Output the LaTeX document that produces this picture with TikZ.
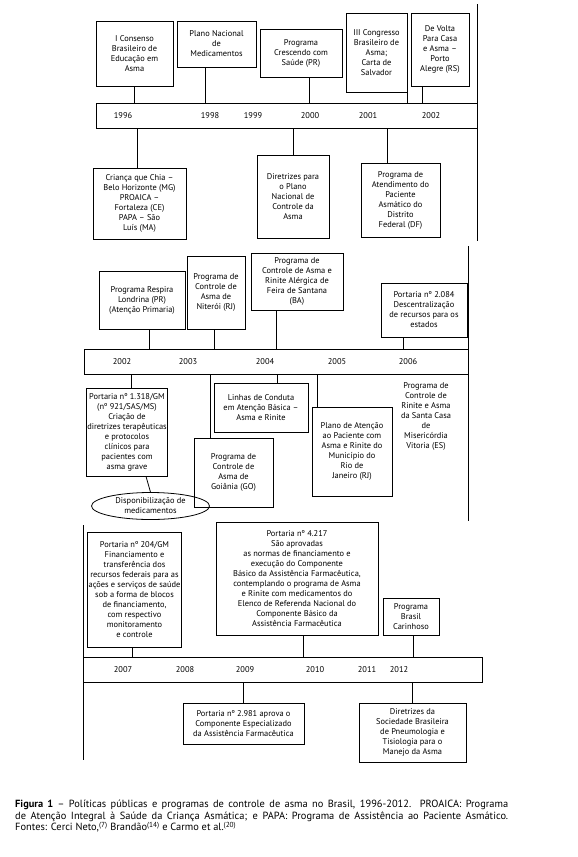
\documentclass[tikz,border=0pt]{standalone}
\usepackage{fontspec}
\setmainfont{PT Sans}
\usetikzlibrary{shapes.geometric}
\tikzset{
  caixa/.style={draw, line width=0.8pt, align=center, inner sep=1pt, font=\fontsize{8.4}{10}\selectfont},
  faixa/.style={draw, line width=0.8pt, minimum height=25, inner sep=0pt},
  ano/.style={font=\fontsize{8.4}{10}\selectfont},
  liga/.style={line width=0.8pt},
}
\begin{document}
\begin{tikzpicture}[x=1pt, y=-1pt]
\fill[white] (0,0) rectangle (578,857);
\useasboundingbox (0,0) rectangle (578,857);

% Primeira faixa: 1996-2002
\node[faixa, minimum width=381] (f1) at (286.5,115.5) {};
\node[ano] (a96) at (123,116) {1996};
\node[ano] (a98) at (210,116) {1998};
\node[ano] (a99) at (253,116) {1999};
\node[ano] (a00) at (310,116) {2000};
\node[ano] (a01) at (368,116) {2001};
\node[ano] (a02) at (431,116) {2002};
\draw[liga] (477,4) -- (477,241); % linha lateral

% Caixas acima da faixa
\node[caixa, minimum width=77, minimum height=65] (b1) at (134.5,53.5) {I Consenso\\Brasileiro de\\Educação em\\Asma};
\node[caixa, minimum width=79, minimum height=46] (b2) at (216.5,44) {Plano Nacional\\de\\Medicamentos};
\node[caixa, minimum width=82, minimum height=48] (b3) at (301,53) {Programa\\Crescendo com\\Saúde (PR)};
\node[caixa, minimum width=61, minimum height=79] (b4) at (376.5,52.5) {III Congresso\\Brasileiro de\\Asma;\\Carta de\\Salvador};
\node[caixa, minimum width=58, minimum height=73] (b5) at (440,49.5) {De Volta\\Para Casa\\e Asma --\\Porto\\Alegre (RS)};
\draw[liga] (b1.south) -- (b1.south |- f1.north);
\draw[liga] (b2.south -| 205,0) -- (f1.north -| 205,0);
\draw[liga] (b3.south -| 309,0) -- (f1.north -| 309,0);
\draw[liga] (b4.south east) -- (b4.south east |- f1.north);
\draw[liga] (b5.south -| 422,0) -- (f1.north -| 422,0);

% Caixas abaixo da faixa
\node[caixa, minimum width=93, minimum height=71] (b6) at (139.5,203.5) {Criança que Chia --\\Belo Horizonte (MG)\\PROAICA --\\Fortaleza (CE)\\PAPA -- São\\Luís (MA)};
\node[caixa, minimum width=72, minimum height=83] (b7) at (293,196.5) {Diretrizes para\\o Plano\\Nacional de\\Controle da\\Asma};
\node[caixa, minimum width=79, minimum height=74] (b8) at (400.5,200) {Programa de\\Atendimento do\\Paciente\\Asmático do\\Distrito\\Federal (DF)};
\draw[liga] (f1.south -| 137,0) -- (b6.north -| 137,0);
\draw[liga] (f1.south -| b7.north) -- (b7.north);
\draw[liga] (f1.south -| 387,0) -- (b8.north -| 387,0);

% Segunda faixa: 2002-2006
\node[faixa, minimum width=384] (f2) at (276,361.5) {};
\node[ano] (a02b) at (122,362) {2002};
\node[ano] (a03) at (188,362) {2003};
\node[ano] (a04) at (265,362) {2004};
\node[ano] (a05) at (337,362) {2005};
\node[ano] (a06) at (408,362) {2006};
\draw[liga] (468,246) -- (468,521); % linha lateral

\node[caixa, minimum width=86, minimum height=58] (c1) at (142,300) {Programa Respira\\Londrina (PR)\\(Atenção Primaria)};
\node[caixa, minimum width=58, minimum height=73] (c2) at (216,292.5) {Programa de\\Controle de\\Asma de\\Niterói (RJ)};
\node[caixa, minimum width=92, minimum height=57] (c3) at (297,281.5) {Programa de\\Controle de Asma e\\Rinite Alérgica de\\Feira de Santana\\(BA)};
\node[caixa, minimum width=86, minimum height=54] (c4) at (424,310) {Portaria nº 2.084\\Descentralização\\de recursos para os\\estados};
\draw[liga] (c1.south -| 149,0) -- (f2.north -| 149,0);
\draw[liga] (c2.south -| 214,0) -- (f2.north -| 214,0);
\draw[liga] (c3.south -| 276,0) -- (f2.north -| 276,0);
\draw[liga] (c4.south -| 403,0) -- (f2.north -| 403,0);

\node[caixa, minimum width=80, minimum height=88] (c5) at (127,432) {Portaria nº 1.318/GM\\(nº 921/SAS/MS)\\Criação de\\diretrizes terapêuticas\\e protocolos\\clínicos para\\pacientes com\\asma grave};
\node[caixa, ellipse, inner sep=0pt, minimum width=118, minimum height=27] (e1) at (150.5,506) {Disponibilização de\\medicamentos};
\node[caixa, minimum width=94, minimum height=49] (c6) at (261,407.5) {Linhas de Conduta\\em Atenção Básica --\\Asma e Rinite};
\node[caixa, minimum width=79, minimum height=69] (c7) at (233.5,472.5) {Programa de\\Controle de\\Asma de\\Goiânia (GO)};
\node[caixa, minimum width=80, minimum height=89] (c8) at (352,451.5) {Plano de Atenção\\ao Paciente com\\Asma e Rinite do\\Município do\\Rio de\\Janeiro (RJ)};
\node[caixa, draw=none] (c9) at (426,416) {Programa de\\Controle de\\Rinite e Asma\\da Santa Casa\\de\\Misericórdia\\Vitoria (ES)};
\draw[liga] (f2.south -| 131,0) -- (c5.north -| 131,0);
\draw[liga] (c5.south -| 146,0) -- (e1.north);
\draw[liga] (f2.south -| 210,0) -- (c7.north -| 210,0);
\draw[liga] (f2.south -| 277,0) -- (c6.north -| 277,0);
\draw[liga] (f2.south -| 317,0) -- (c8.north -| 317,0);

% Terceira faixa: 2007-2012
\node[faixa, minimum width=399] (f3) at (282.5,669.5) {};
\node[ano] (a07) at (123,670) {2007};
\node[ano] (a08) at (185,670) {2008};
\node[ano] (a09) at (245,670) {2009};
\node[ano] (a10) at (315,670) {2010};
\node[ano] (a11) at (367,670) {2011};
\node[ano] (a12) at (399,670) {2012};
\draw[liga] (83,525) -- (83,760); % linha lateral

\node[caixa, minimum width=85, minimum height=115] (d1) at (134.5,589.5) {Portaria nº 204/GM\\Financiamento e\\transferência dos\\recursos federais para as\\ações e serviços de saúde\\sob a forma de blocos\\de financiamento,\\com respectivo\\monitoramento\\e controle};
\node[caixa, minimum width=162, minimum height=113] (d2) at (297,578.5) {Portaria nº 4.217\\São aprovadas\\as normas de financiamento e\\execução do Componente\\Básico da Assistência Farmacêutica,\\contemplando o programa de Asma\\e Rinite com medicamentos do\\Elenco de Referenda Nacional do\\Componente Básico da\\Assistência Farmacêutica};
\node[caixa, minimum width=56, minimum height=37] (d3) at (411,616.5) {Programa\\Brasil\\Carinhoso};
\draw[liga] (d1.south -| 132,0) -- (f3.north -| 132,0);
\draw[liga] (d2.south -| 303,0) -- (f3.north -| 303,0);
\draw[liga] (d3.south -| 413,0) -- (f3.north -| 413,0);

\node[caixa, minimum width=121, minimum height=41] (d4) at (243.5,723.5) {Portaria nº 2.981 aprova o\\Componente Especializado\\da Assistência Farmacêutica};
\node[caixa, minimum width=107, minimum height=59] (d5) at (412.5,732.5) {Diretrizes da\\Sociedade Brasileira\\de Pneumologia e\\Tisiologia para o\\Manejo da Asma};
\draw[liga] (f3.south -| d4.north) -- (d4.north);
\draw[liga] (f3.south -| d5.north) -- (d5.north);

% Legenda
\node[anchor=north west, inner sep=0pt, text width=493, align=justify, font=\fontsize{10.4}{11.5}\selectfont] (leg) at (15,800) {\textbf{Figura 1} -- Políticas públicas e programas de controle de asma no Brasil, 1996-2012. PROAICA: Programa\linebreak de Atenção Integral à Saúde da Criança Asmática; e PAPA: Programa de Assistência ao Paciente Asmático.\linebreak Fontes: Cerci Neto,\textsuperscript{(7)} Brandão\textsuperscript{(14)} e Carmo et al.\textsuperscript{(20)}};

\end{tikzpicture}
\end{document}
